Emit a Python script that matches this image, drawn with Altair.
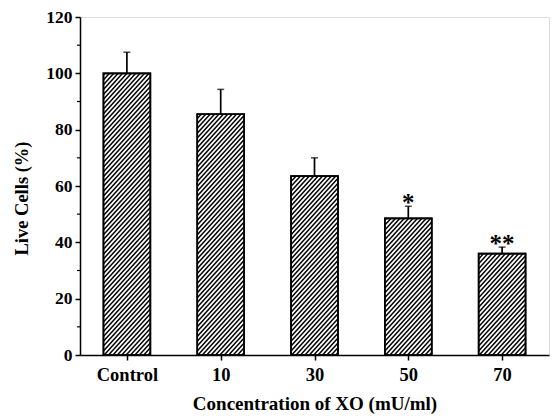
import altair as alt
import pandas as pd

categories = ["Control", "10", "30", "50", "70"]
values = [100.0, 85.5, 63.5, 48.5, 36.0]
errors = [7.5, 8.8, 6.5, 4.3, 2.3]
marks = ["", "", "", "*", "**"]
minor_ticks = [10, 30, 50, 70, 90, 110]

W, H = 469, 338
KX = W / 5.0
KY = H / 120.0
S = 1.1      # hatch slope (pixels)
SP = 4.4     # hatch horizontal spacing (pixels)
BW = 0.5 * KX

df = pd.DataFrame({
    "cat": categories,
    "i": list(range(len(categories))),
    "value": values,
    "err": errors,
    "mark": marks,
})
minor_df = pd.DataFrame({"t": minor_ticks})

FONT = "Liberation Serif"

xscale = alt.Scale(domain=[-0.5, 4.5], nice=False, zero=False)
yscale = alt.Scale(domain=[0, 120], nice=False)

label_expr = "[" + ",".join(f"'{c}'" for c in categories) + "][datum.value]"

xaxis = alt.Axis(
    values=[0, 1, 2, 3, 4], labelExpr=label_expr, title="Concentration of XO (mU/ml)",
    grid=False, tickSize=5, tickColor="black", domainColor="black", domainWidth=1.5,
    tickWidth=1.5, labelFont=FONT, labelFontWeight="bold", labelFontSize=18.5,
    labelColor="black", labelPadding=5, titleFont=FONT, titleFontWeight="bold",
    titleFontSize=19, titleColor="black", titlePadding=11,
)
yaxis = alt.Axis(
    values=[0, 20, 40, 60, 80, 100, 120], title="Live Cells (%)", grid=False,
    tickSize=5, tickColor="black", domainColor="black", domainWidth=1.5, tickWidth=1.5,
    labelFont=FONT, labelFontWeight="bold", labelFontSize=17.5, labelColor="black",
    labelPadding=3, titleFont=FONT, titleFontWeight="bold", titleFontSize=18.5,
    titleColor="black", titlePadding=14, titleY=181,
)

base = alt.Chart(df).transform_calculate(
    x1="datum.i - 0.25", x2="datum.i + 0.25", top="datum.value + datum.err"
)

bars = base.mark_bar(fill="white", stroke="black", strokeWidth=1.6).encode(
    x=alt.X("x1:Q", scale=xscale, axis=xaxis),
    x2="x2:Q",
    y=alt.Y("value:Q", scale=yscale, axis=yaxis),
    y2=alt.datum(0),
)

hatch = alt.Chart(df).transform_calculate(
    k="sequence(0, 95)"
).transform_flatten(["k"]).transform_calculate(
    hb=f"datum.value * {KY}",
    b=f"-{S}*{BW} + (datum.k + 0.5) * {S}*{SP}",
).transform_calculate(
    us=f"max(0, -datum.b / {S})",
    ue=f"min({BW}, (datum.hb - datum.b) / {S})",
).transform_filter("datum.ue > datum.us").transform_calculate(
    hx1=f"datum.i - 0.25 + datum.us / {KX}",
    hx2=f"datum.i - 0.25 + datum.ue / {KX}",
    hy1=f"({S} * datum.us + datum.b) / {KY}",
    hy2=f"({S} * datum.ue + datum.b) / {KY}",
).mark_rule(color="black", strokeWidth=1.5).encode(
    x=alt.X("hx1:Q", scale=xscale),
    x2="hx2:Q",
    y=alt.Y("hy1:Q", scale=yscale),
    y2="hy2:Q",
)

outline = base.mark_bar(fill="transparent", stroke="black", strokeWidth=1.7).encode(
    x=alt.X("x1:Q", scale=xscale), x2="x2:Q",
    y=alt.Y("value:Q", scale=yscale), y2=alt.datum(0),
)

errbar = base.mark_rule(color="black", strokeWidth=1.7).encode(
    x=alt.X("i:Q", scale=xscale),
    y=alt.Y("value:Q", scale=yscale),
    y2="top:Q",
)
caps = base.mark_tick(color="black", orient="horizontal", size=7, thickness=1.5).encode(
    x=alt.X("i:Q", scale=xscale),
    y=alt.Y("top:Q", scale=yscale),
)
stars = base.mark_text(
    font=FONT, fontWeight="bold", fontSize=25, color="black", baseline="alphabetic", dy=5
).encode(
    x=alt.X("i:Q", scale=xscale),
    y=alt.Y("top:Q", scale=yscale),
    text="mark:N",
)

minor = alt.Chart(minor_df).mark_rule(color="black", strokeWidth=1.2).encode(
    y=alt.Y("t:Q", scale=yscale),
    x=alt.value(-3),
    x2=alt.value(0),
)

chart = alt.layer(bars, hatch, outline, errbar, caps, stars, minor).properties(
    width=W, height=H,
    autosize=alt.AutoSizeParams(type="none"),
    padding={"left": 72, "top": 9, "right": 2, "bottom": 64},
).configure_view(stroke="black", strokeWidth=1).configure(background="white")

chart.save("out.html", embed_options={"renderer": "svg", "actions": False})
